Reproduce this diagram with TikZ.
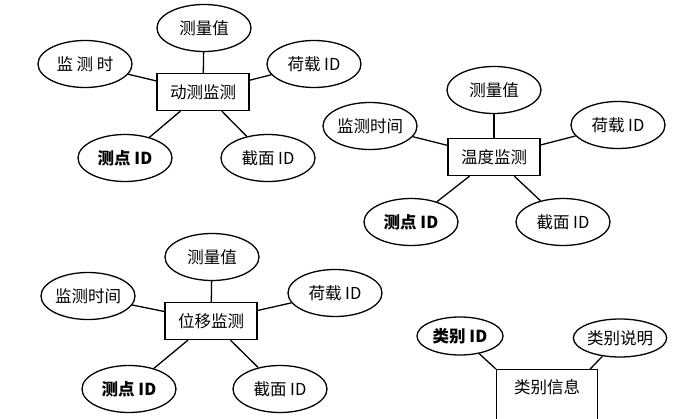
\documentclass[tikz,border=0pt]{standalone}
\usepackage{fontspec}
\newfontfamily\cjk{Noto Sans CJK SC}
\usetikzlibrary{shapes.geometric}

\tikzset{
  attr/.style={draw,ellipse,minimum width=94pt,minimum height=47pt,inner sep=0pt},
  ent/.style={draw,rectangle,minimum width=92pt,minimum height=37pt,inner sep=0pt},
}

\begin{document}
\begin{tikzpicture}[x=1pt,y=-1pt,line width=1.3pt,font=\cjk\fontsize{16.5}{19}\selectfont]
			\useasboundingbox (0,0) rectangle (684,419);
			% dongce
			\node[ent] (v1) at (203,92) {动测监测};
			\node[attr] (v1a) at (204,28) {测量值};
			\node[attr] (v1b) at (85,64) {监\ 测\ 时};
			\node[attr] (v1c) at (314,64) {荷载 ID};
			\node[attr] (v1d) at (125,158) {\bfseries 测点 ID};
			\node[attr] (v1e) at (268,158) {截面 ID};
			\draw[] (v1a)--(v1);
			\draw[] (v1b)--(v1);
			\draw[] (v1c)--(v1);
			\draw[] (v1d)--(v1);
			\draw[] (v1e)--(v1);
			% wendu
			\node[ent] (v2) at (494,157) {温度监测};
			\node[attr] (v2a) at (494,90) {测量值};
			\node[attr] (v2b) at (370,126) {监测时间};
			\node[attr] (v2c) at (618,125) {荷载 ID};
			\node[attr] (v2d) at (411,222) {\bfseries 测点 ID};
			\node[attr] (v2e) at (563,222) {截面 ID};
			\draw[] (v2a)--(v2);
			\draw[] (v2b)--(v2);
			\draw[] (v2c)--(v2);
			\draw[] (v2d)--(v2);
			\draw[] (v2e)--(v2);
			% weiyi
			\node[ent] (v3) at (211,321) {位移监测};
			\node[attr] (v3a) at (212,257) {测量值};
			\node[attr] (v3b) at (88,296) {监测时间};
			\node[attr] (v3c) at (335,293) {荷载 ID};
			\node[attr] (v3d) at (129,389) {\bfseries 测点 ID};
			\node[attr] (v3e) at (280,389) {截面 ID};
			\draw[] (v3a)--(v3);
			\draw[] (v3b)--(v3);
			\draw[] (v3c)--(v3);
			\draw[] (v3d)--(v3);
			\draw[] (v3e)--(v3);
			% leibie
			\node[ent,anchor=north,minimum height=0pt,minimum width=101pt,inner ysep=10pt,text height=14pt,text depth=30pt] (v4) at (547,369) {类别信息};
			\node[attr,minimum width=86pt,minimum height=38pt] (v4a) at (460,336) {\bfseries 类别 ID};
			\node[attr,minimum width=86pt,minimum height=38pt] (v4b) at (620,338) {类别说明};
			\draw[] (v4a)--(v4.north west);
			\draw[] (v4b)--([xshift=-8pt]v4.north east);
		\end{tikzpicture}
\end{document}
